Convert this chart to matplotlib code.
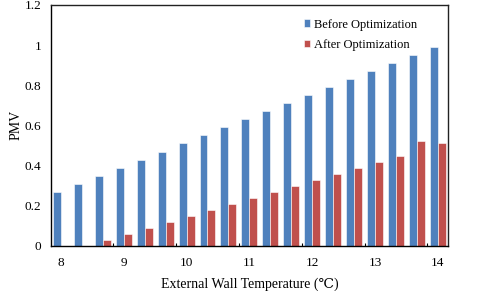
import numpy as np
import matplotlib.pyplot as plt

plt.rcParams['font.family'] = ['Liberation Serif', 'DejaVu Serif']

# --- DATA ---
temps = [8, 8.33, 8.67, 9, 9.33, 9.67, 10, 10.33, 10.67, 11, 11.33, 11.67,
         12, 12.33, 12.67, 13, 13.33, 13.67, 14]
before = [0.27, 0.31, 0.35, 0.39, 0.43, 0.47, 0.51, 0.55, 0.59, 0.63, 0.67, 0.71,
          0.75, 0.79, 0.83, 0.87, 0.91, 0.95, 0.99]
after = [0.0, 0.0, 0.03, 0.06, 0.09, 0.12, 0.15, 0.18, 0.21, 0.24, 0.27, 0.30,
         0.33, 0.36, 0.39, 0.42, 0.45, 0.52, 0.51]
tick_labels = ['8', '9', '10', '11', '12', '13', '14']

BLUE = "#4F81BD"
RED = "#C0504D"

fig = plt.figure(figsize=(4.8, 2.91), dpi=100)
ax = fig.add_axes([0.106, 0.155, 0.827, 0.828])

x = np.arange(len(temps))
w = 0.38
ax.bar(x - w / 2, before, w, color=BLUE, edgecolor='white', linewidth=0.4,
       label='Before Optimization')
ax.bar(x + w / 2, after, w, color=RED, edgecolor='white', linewidth=0.4,
       label='After Optimization')

ax.set_xlim(-0.48, len(temps) - 0.52)
ax.set_ylim(0, 1.2)
ax.set_yticks([0, 0.2, 0.4, 0.6, 0.8, 1.0, 1.2])
ax.set_yticklabels(['0', '0.2', '0.4', '0.6', '0.8', '1', '1.2'])
ax.tick_params(axis='y', length=0, labelsize=9.5, pad=7)

ax.set_xticks(x[::3])
ax.set_xticklabels(tick_labels)
ax.tick_params(axis='x', which='major', length=0, labelsize=9.5, pad=8)
ax.set_xticks(np.arange(2.5, len(temps), 3), minor=True)
ax.tick_params(axis='x', which='minor', direction='in', length=2.5, width=0.8)

for s in ax.spines.values():
    s.set_linewidth(1.0)
    s.set_color('#222222')
ax.spines['left'].set_color('black')
ax.spines['bottom'].set_color('black')

ax.set_ylabel('PMV', fontsize=10, labelpad=1)
ax.set_xlabel('External Wall Temperature (\u2103)', fontsize=10, labelpad=6)

ax.legend(loc='upper right', bbox_to_anchor=(0.95, 0.99), frameon=False,
          fontsize=9, handlelength=0.55, handleheight=0.55, handletextpad=0.25,
          labelspacing=0.65)

fig.savefig('out.png', dpi=100)
